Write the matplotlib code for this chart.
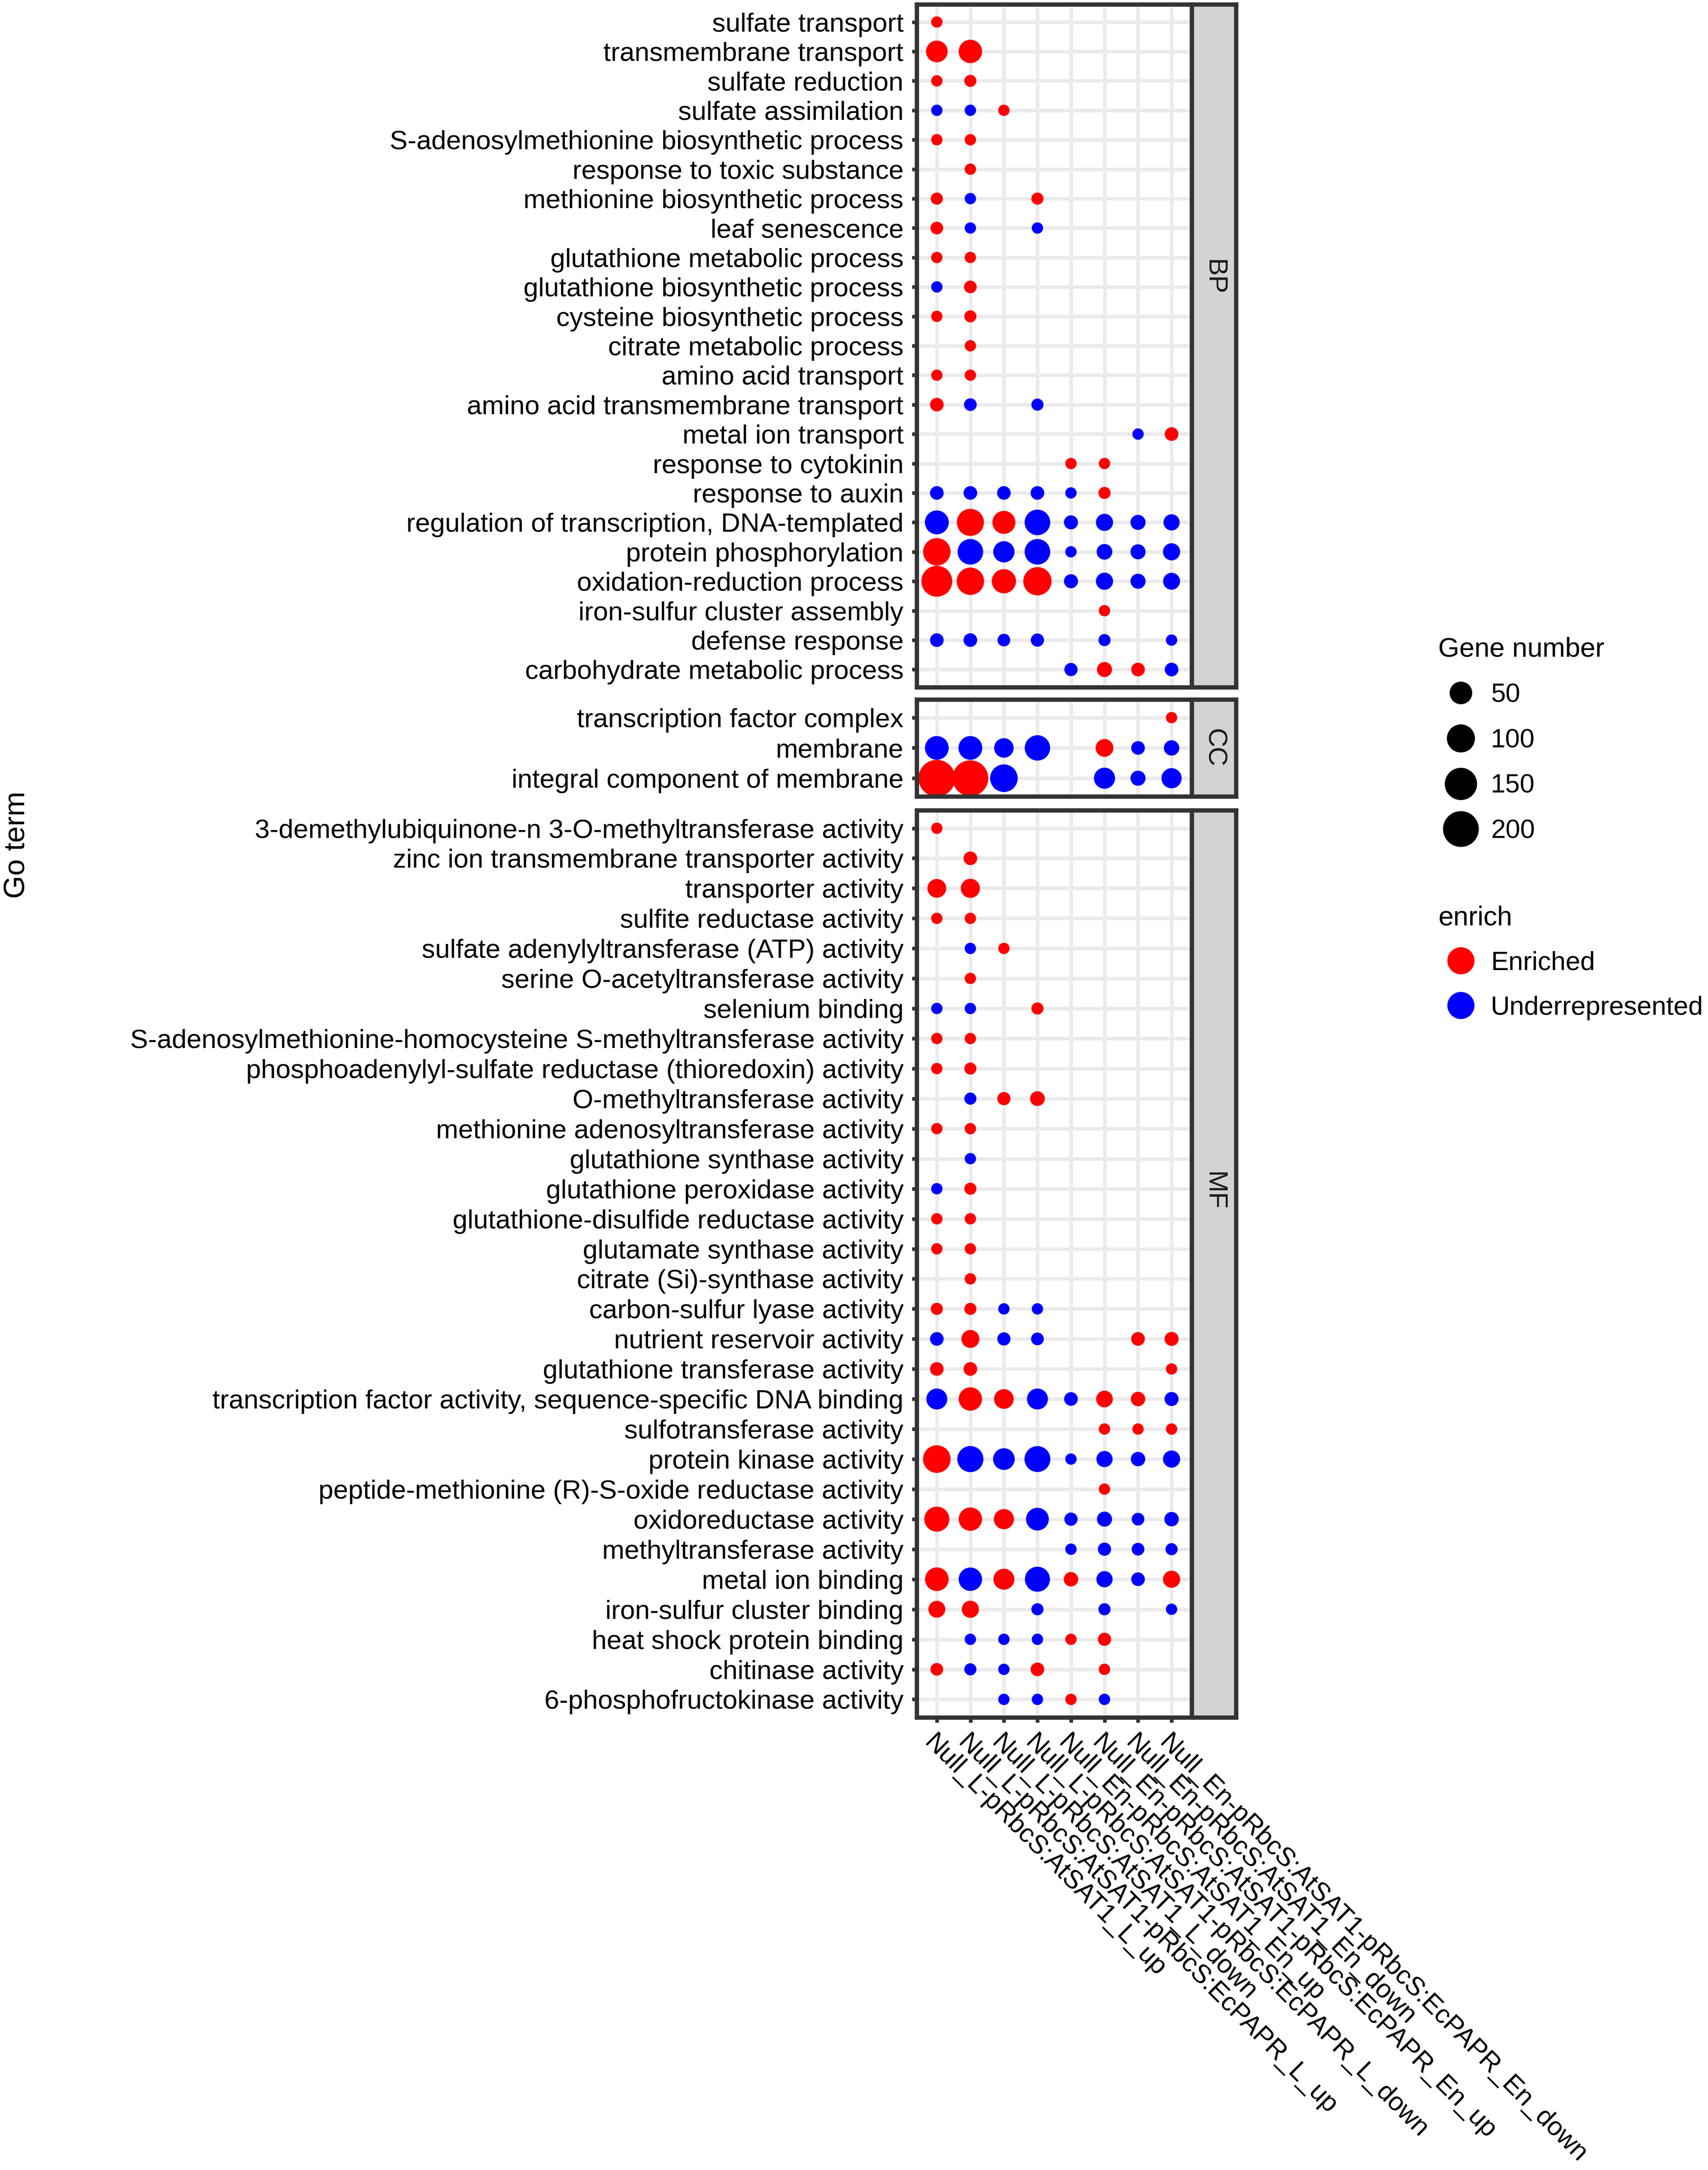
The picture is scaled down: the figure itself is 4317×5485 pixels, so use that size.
import numpy as np
import matplotlib.pyplot as plt
from matplotlib.lines import Line2D

plt.rcParams['font.family'] = ['Liberation Sans', 'DejaVu Sans']

DPI = 300
FIG_W, FIG_H = 4317, 5485

samples = [
    "Null_L-pRbcS:AtSAT1_L_up",
    "Null_L-pRbcS:AtSAT1-pRbcS:EcPAPR_L_up",
    "Null_L-pRbcS:AtSAT1_L_down",
    "Null_L-pRbcS:AtSAT1-pRbcS:EcPAPR_L_down",
    "Null_En-pRbcS:AtSAT1_En_up",
    "Null_En-pRbcS:AtSAT1-pRbcS:EcPAPR_En_up",
    "Null_En-pRbcS:AtSAT1_En_down",
    "Null_En-pRbcS:AtSAT1-pRbcS:EcPAPR_En_down",
]

# terms listed top to bottom; genes = gene number per sample (0 = no dot)
# enrich: E = Enriched, U = Underrepresented, . = none
bp_terms = [
    "sulfate transport", "transmembrane transport", "sulfate reduction",
    "sulfate assimilation", "S-adenosylmethionine biosynthetic process",
    "response to toxic substance", "methionine biosynthetic process",
    "leaf senescence", "glutathione metabolic process",
    "glutathione biosynthetic process", "cysteine biosynthetic process",
    "citrate metabolic process", "amino acid transport",
    "amino acid transmembrane transport", "metal ion transport",
    "response to cytokinin", "response to auxin",
    "regulation of transcription, DNA-templated", "protein phosphorylation",
    "oxidation-reduction process", "iron-sulfur cluster assembly",
    "defense response", "carbohydrate metabolic process",
]
bp_genes = [
    [1, 0, 0, 0, 0, 0, 0, 0],
    [43, 56, 0, 0, 0, 0, 0, 0],
    [1, 2, 0, 0, 0, 0, 0, 0],
    [1, 1, 1, 0, 0, 0, 0, 0],
    [1, 1, 0, 0, 0, 0, 0, 0],
    [0, 1, 0, 0, 0, 0, 0, 0],
    [2, 1, 0, 2, 0, 0, 0, 0],
    [3, 1, 0, 1, 0, 0, 0, 0],
    [1, 1, 0, 0, 0, 0, 0, 0],
    [1, 3, 0, 0, 0, 0, 0, 0],
    [1, 2, 0, 0, 0, 0, 0, 0],
    [0, 1, 0, 0, 0, 0, 0, 0],
    [1, 1, 0, 0, 0, 0, 0, 0],
    [5, 3, 0, 2, 0, 0, 0, 0],
    [0, 0, 0, 0, 0, 0, 1, 5],
    [0, 0, 0, 0, 1, 1, 0, 0],
    [5, 5, 5, 5, 1, 2, 0, 0],
    [60, 90, 53, 75, 6, 17, 9, 13],
    [93, 75, 40, 75, 1, 11, 9, 17],
    [133, 93, 63, 102, 6, 17, 9, 16],
    [0, 0, 0, 0, 0, 1, 0, 0],
    [5, 5, 3, 4, 0, 2, 0, 1],
    [0, 0, 0, 0, 4, 9, 5, 5],
]
bp_enrich = [
    "E.......", "EE......", "EE......", "UUE.....", "EE......", ".E......",
    "EU.E....", "EU.U....", "EE......", "UE......", "EE......", ".E......",
    "EE......", "EU.U....", "......UE", "....EE..", "UUUUUE..", "UEEUUUUU",
    "EUUUUUUU", "EEEEUUUU", ".....E..", "UUUU.U.U", "....UEEU",
]

cc_terms = ["transcription factor complex", "membrane",
            "integral component of membrane"]
cc_genes = [
    [0, 0, 0, 0, 0, 0, 0, 1],
    [59, 59, 29, 73, 0, 20, 5, 10],
    [215, 200, 95, 0, 0, 39, 9, 33],
]
cc_enrich = [".......E", "UUUU.EUU", "EEU..UUU"]

mf_terms = [
    "3-demethylubiquinone-n 3-O-methyltransferase activity",
    "zinc ion transmembrane transporter activity", "transporter activity",
    "sulfite reductase activity", "sulfate adenylyltransferase (ATP) activity",
    "serine O-acetyltransferase activity", "selenium binding",
    "S-adenosylmethionine-homocysteine S-methyltransferase activity",
    "phosphoadenylyl-sulfate reductase (thioredoxin) activity",
    "O-methyltransferase activity", "methionine adenosyltransferase activity",
    "glutathione synthase activity", "glutathione peroxidase activity",
    "glutathione-disulfide reductase activity", "glutamate synthase activity",
    "citrate (Si)-synthase activity", "carbon-sulfur lyase activity",
    "nutrient reservoir activity", "glutathione transferase activity",
    "transcription factor activity, sequence-specific DNA binding",
    "sulfotransferase activity", "protein kinase activity",
    "peptide-methionine (R)-S-oxide reductase activity",
    "oxidoreductase activity", "methyltransferase activity",
    "metal ion binding", "iron-sulfur cluster binding",
    "heat shock protein binding", "chitinase activity",
    "6-phosphofructokinase activity",
]
mf_genes = [
    [1, 0, 0, 0, 0, 0, 0, 0],
    [0, 5, 0, 0, 0, 0, 0, 0],
    [25, 27, 0, 0, 0, 0, 0, 0],
    [1, 1, 0, 0, 0, 0, 0, 0],
    [0, 1, 1, 0, 0, 0, 0, 0],
    [0, 1, 0, 0, 0, 0, 0, 0],
    [1, 1, 0, 2, 0, 0, 0, 0],
    [1, 1, 0, 0, 0, 0, 0, 0],
    [1, 2, 0, 0, 0, 0, 0, 0],
    [0, 2, 4, 8, 0, 0, 0, 0],
    [1, 1, 0, 0, 0, 0, 0, 0],
    [0, 1, 0, 0, 0, 0, 0, 0],
    [1, 2, 0, 0, 0, 0, 0, 0],
    [1, 1, 0, 0, 0, 0, 0, 0],
    [1, 1, 0, 0, 0, 0, 0, 0],
    [0, 1, 0, 0, 0, 0, 0, 0],
    [2, 2, 1, 1, 0, 0, 0, 0],
    [5, 21, 4, 3, 0, 0, 5, 6],
    [5, 5, 0, 0, 0, 0, 0, 1],
    [38, 56, 30, 38, 5, 15, 7, 6],
    [0, 0, 0, 0, 0, 1, 1, 1],
    [95, 80, 43, 78, 1, 13, 7, 17],
    [0, 0, 0, 0, 0, 1, 0, 0],
    [70, 56, 33, 51, 4, 9, 3, 7],
    [0, 0, 0, 0, 1, 4, 3, 2],
    [58, 56, 38, 70, 7, 13, 5, 17],
    [16, 17, 0, 2, 0, 2, 0, 1],
    [0, 1, 1, 1, 1, 4, 0, 0],
    [3, 2, 1, 5, 0, 1, 0, 0],
    [0, 0, 1, 1, 1, 1, 0, 0],
]
mf_enrich = [
    "E.......", ".E......", "EE......", "EE......", ".UE.....", ".E......",
    "UU.E....", "EE......", "EE......", ".UEE....", "EE......", ".U......",
    "UE......", "EE......", "EE......", ".E......", "EEUU....", "UEUU..EE",
    "EE.....E", "UEEUUEEU", ".....EEE", "EUUUUUUU", ".....E..", "EEEUUUUU",
    "....UUUU", "EUEUEUUE", "EE.U.U.U", ".UUUEE..", "EUUE.E..", "..UUEU..",
]

size_breaks = [50, 100, 150, 200]
colors = {"E": "#FF0000", "U": "#0000FF"}
border = "#333333"
FS = 16.2
LEG_FS = 16


def dot_size(n):
    # marker area (pt^2) from gene number, area-like scale
    d_px = 24 + 4.7 * np.sqrt(n)
    return (d_px * 72 / DPI) ** 2


def px_box(x0, y0, x1, y1):
    return [x0 / FIG_W, 1 - y1 / FIG_H, (x1 - x0) / FIG_W, (y1 - y0) / FIG_H]


fig = plt.figure(figsize=(FIG_W / DPI, FIG_H / DPI), dpi=DPI)

# name, terms, genes, enrich, top px, bottom px, strip label height
panels = [
    ("BP", bp_terms, bp_genes, bp_enrich, 11, 1737, 0.60),
    ("CC", cc_terms, cc_genes, cc_enrich, 1768, 2013, 0.50),
    ("MF", mf_terms, mf_genes, mf_enrich, 2048, 4341, 0.58),
]

for name, terms, genes, enrich, top, bottom, lab_y in panels:
    ax = fig.add_axes(px_box(2317, top, 3012, bottom))
    n = len(terms)
    xs, ys, ss, cs = [], [], [], []
    for i, (row, code) in enumerate(zip(genes, enrich)):
        for j, (g, c) in enumerate(zip(row, code)):
            if c == ".":
                continue
            xs.append(j)
            ys.append(n - 1 - i)
            ss.append(dot_size(g))
            cs.append(colors[c])
    ax.scatter(xs, ys, s=ss, c=cs, linewidths=0, zorder=3)

    ax.set_xlim(-0.6, len(samples) - 0.4)
    ax.set_ylim(-0.6, n - 0.4)
    ax.set_yticks(range(n))
    ax.set_yticklabels(terms[::-1])
    ax.set_xticks(range(len(samples)))
    ax.grid(True, color="#EBEBEB", linewidth=2.2)
    ax.set_axisbelow(True)
    for sp in ax.spines.values():
        sp.set_color(border)
        sp.set_linewidth(2.6)
        sp.set_zorder(5)
    ax.tick_params(axis="both", length=3.0, width=2.2, color=border,
                   labelsize=FS, labelcolor="black", pad=5)
    if name == "MF":
        ax.set_xticklabels(samples, rotation=-45, ha="left", va="top",
                           rotation_mode="anchor", fontsize=15.9)
    else:
        ax.tick_params(axis="x", length=0, labelbottom=False)

    # facet strip on the right
    sax = fig.add_axes(px_box(3012, top, 3124, bottom))
    sax.set_facecolor("#D3D3D3")
    sax.set_xticks([])
    sax.set_yticks([])
    for sp in sax.spines.values():
        sp.set_color(border)
        sp.set_linewidth(2.6)
    sax.text(0.5, lab_y, name, rotation=270, ha="center", va="center",
             fontsize=FS, color="#1A1A1A", transform=sax.transAxes)

fig.text(42 / FIG_W, 1 - 2135 / FIG_H, "Go term", rotation=90,
         ha="center", va="center", fontsize=18)

size_handles = [Line2D([], [], ls="", marker="o", color="black",
                       markeredgewidth=0, markersize=np.sqrt(dot_size(v)))
                for v in size_breaks]
leg1 = fig.legend(size_handles, [str(v) for v in size_breaks],
                  title="Gene number", loc="upper left",
                  bbox_to_anchor=(3635 / FIG_W, 1 - 1610 / FIG_H),
                  frameon=False, fontsize=LEG_FS, title_fontsize=16.5,
                  alignment="left", handlelength=1.7, handletextpad=0.3,
                  labelspacing=0.79, borderpad=0, borderaxespad=0)

color_handles = [Line2D([], [], ls="", marker="o", color=colors[c],
                        markeredgewidth=0, markersize=np.sqrt(dot_size(90)))
                 for c in ["E", "U"]]
leg2 = fig.legend(color_handles, ["Enriched", "Underrepresented"],
                  title="enrich", loc="upper left",
                  bbox_to_anchor=(3635 / FIG_W, 1 - 2288 / FIG_H),
                  frameon=False, fontsize=LEG_FS, title_fontsize=16.5,
                  alignment="left", handlelength=1.7, handletextpad=0.3,
                  labelspacing=0.77, borderpad=0, borderaxespad=0)

fig.savefig("out.png", dpi=DPI, facecolor="white")
